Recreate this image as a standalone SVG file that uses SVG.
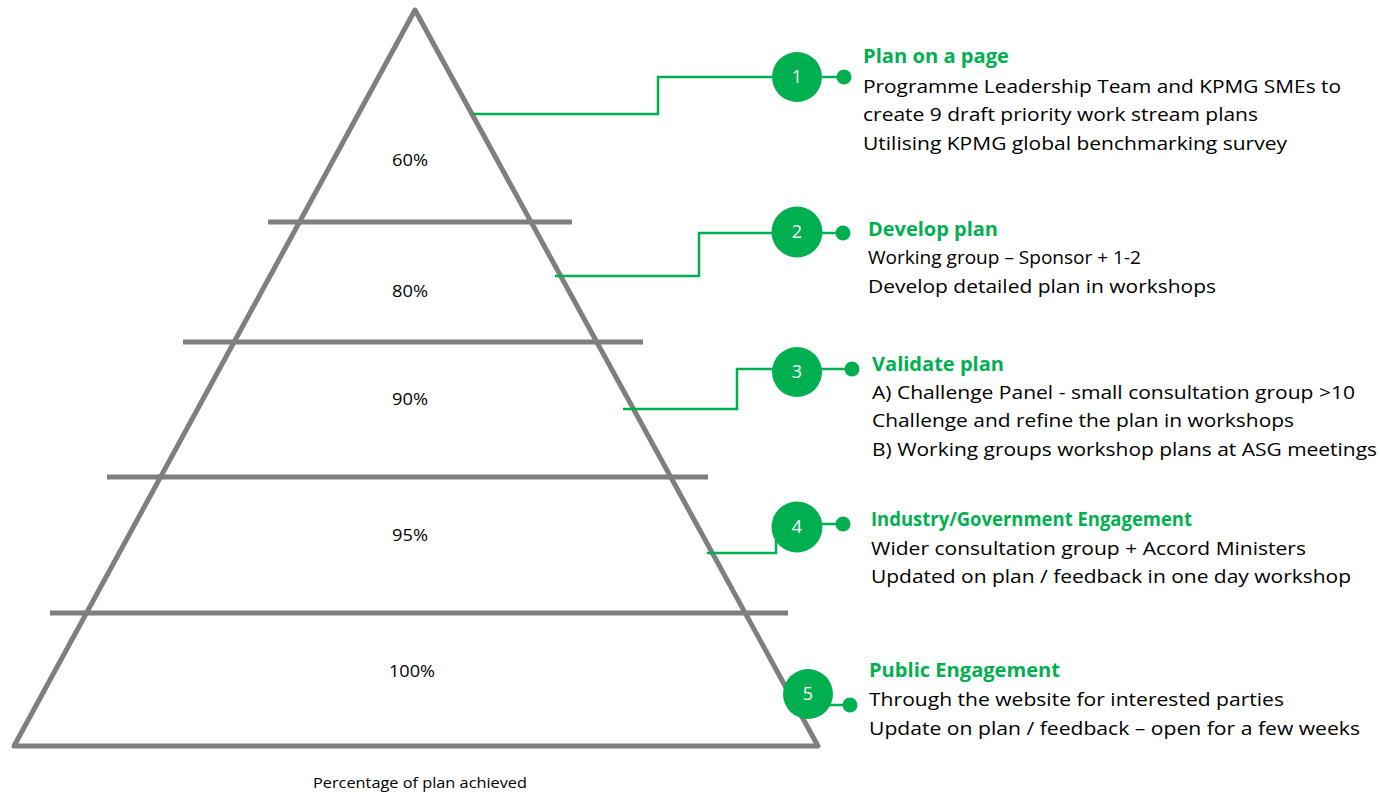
<svg xmlns="http://www.w3.org/2000/svg" width="1380" height="792" viewBox="0 0 1380 792">
<style>
.pyr{fill:none;stroke:#7f7f7f;stroke-width:5;stroke-linejoin:round}
.bar{stroke:#7f7f7f;stroke-width:5}
.pct{font-family:"Open Sans","Liberation Sans",sans-serif;font-size:17px;fill:#000;text-anchor:middle}
.con{fill:none;stroke:#00b050;stroke-width:2.5}
.badge{fill:#00b050}
.num{font-family:"Open Sans","Liberation Sans",sans-serif;font-size:18px;fill:#fff;text-anchor:middle}
.ttl{font-family:"Open Sans","Liberation Sans",sans-serif;font-size:19px;font-weight:bold;fill:#00b050}
.txt{font-family:"Open Sans","Liberation Sans",sans-serif;font-size:19px;fill:#000}
.cap{font-family:"Open Sans","Liberation Sans",sans-serif;font-size:14px;fill:#000;text-anchor:middle}
</style>
<g id="pyramid">
<polygon class="pyr" points="415,10 818,746 14,746"/>
<line class="bar" x1="268" y1="222" x2="572" y2="222"/>
<line class="bar" x1="183" y1="342" x2="643" y2="342"/>
<line class="bar" x1="107" y1="477" x2="708" y2="477"/>
<line class="bar" x1="50" y1="613" x2="788" y2="613"/>
<text class="pct" x="410" y="166" textLength="36" lengthAdjust="spacingAndGlyphs">60%</text>
<text class="pct" x="410" y="297" textLength="36" lengthAdjust="spacingAndGlyphs">80%</text>
<text class="pct" x="410" y="405" textLength="36" lengthAdjust="spacingAndGlyphs">90%</text>
<text class="pct" x="410" y="541" textLength="36" lengthAdjust="spacingAndGlyphs">95%</text>
<text class="pct" x="412" y="677" textLength="46" lengthAdjust="spacingAndGlyphs">100%</text>
<text class="cap" x="420" y="788" textLength="214" lengthAdjust="spacingAndGlyphs">Percentage of plan achieved</text>
</g>
<g id="connectors">
<polyline class="con" points="473,114 658,114 658,77 797,77 844,77"/>
<polyline class="con" points="555,276 699,276 699,233 797,233 843,233"/>
<polyline class="con" points="623,409 737,409 737,369 852,369"/>
<polyline class="con" points="707,553 776,553 776,540"/>
<line class="con" x1="797" y1="524" x2="843" y2="524"/>
<line class="con" x1="808" y1="705" x2="850" y2="705"/>
</g>
<g id="step1">
<circle class="badge" cx="797" cy="77" r="25"/>
<circle class="badge" cx="844" cy="77" r="7.5"/>
<text class="num" x="797" y="83">1</text>
<text class="ttl" x="863" y="63" textLength="146" lengthAdjust="spacingAndGlyphs">Plan on a page</text>
<text class="txt" x="863" y="93" textLength="478" lengthAdjust="spacingAndGlyphs">Programme Leadership Team and KPMG SMEs to</text>
<text class="txt" x="863" y="121" textLength="395" lengthAdjust="spacingAndGlyphs">create 9 draft priority work stream plans</text>
<text class="txt" x="863" y="150" textLength="424" lengthAdjust="spacingAndGlyphs">Utilising KPMG global benchmarking survey</text>
</g>
<g id="step2">
<circle class="badge" cx="797" cy="232" r="25.5"/>
<circle class="badge" cx="843" cy="233" r="7.5"/>
<text class="num" x="797" y="238">2</text>
<text class="ttl" x="868" y="236" textLength="130" lengthAdjust="spacingAndGlyphs">Develop plan</text>
<text class="txt" x="868" y="264" textLength="273" lengthAdjust="spacingAndGlyphs">Working group – Sponsor + 1-2</text>
<text class="txt" x="868" y="293" textLength="348" lengthAdjust="spacingAndGlyphs">Develop detailed plan in workshops</text>
</g>
<g id="step3">
<circle class="badge" cx="797" cy="372" r="25"/>
<circle class="badge" cx="852" cy="369" r="7.5"/>
<text class="num" x="797" y="378">3</text>
<text class="ttl" x="872" y="371" textLength="132" lengthAdjust="spacingAndGlyphs">Validate plan</text>
<text class="txt" x="872" y="399" textLength="483" lengthAdjust="spacingAndGlyphs">A) Challenge Panel - small consultation group &gt;10</text>
<text class="txt" x="872" y="427" textLength="422" lengthAdjust="spacingAndGlyphs">Challenge and refine the plan in workshops</text>
<text class="txt" x="872" y="456" textLength="505" lengthAdjust="spacingAndGlyphs">B) Working groups workshop plans at ASG meetings</text>
</g>
<g id="step4">
<circle class="badge" cx="797" cy="527" r="25.5"/>
<circle class="badge" cx="843" cy="524" r="7.5"/>
<text class="num" x="797" y="533">4</text>
<text class="ttl" x="871" y="526" textLength="321" lengthAdjust="spacingAndGlyphs">Industry/Government Engagement</text>
<text class="txt" x="871" y="555" textLength="435" lengthAdjust="spacingAndGlyphs">Wider consultation group + Accord Ministers</text>
<text class="txt" x="871" y="583" textLength="480" lengthAdjust="spacingAndGlyphs">Updated on plan / feedback in one day workshop</text>
</g>
<g id="step5">
<circle class="badge" cx="808" cy="694" r="25"/>
<circle class="badge" cx="850" cy="705" r="7.5"/>
<text class="num" x="808" y="700">5</text>
<text class="ttl" x="869" y="677" textLength="191" lengthAdjust="spacingAndGlyphs">Public Engagement</text>
<text class="txt" x="869" y="706" textLength="415" lengthAdjust="spacingAndGlyphs">Through the website for interested parties</text>
<text class="txt" x="869" y="735" textLength="491" lengthAdjust="spacingAndGlyphs">Update on plan / feedback – open for a few weeks</text>
</g>
</svg>
